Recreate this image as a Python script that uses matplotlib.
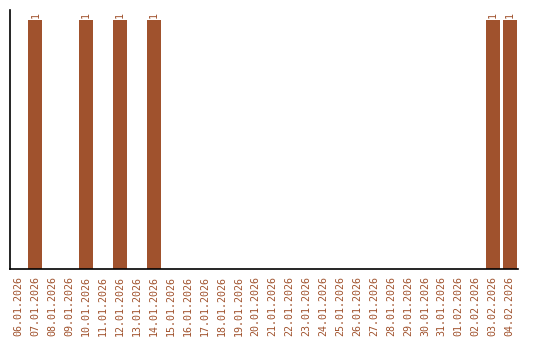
import matplotlib
matplotlib.use("Agg")
import matplotlib.pyplot as plt
import numpy as np

# dates shown on the x axis
dates = ["06.01.2026", "07.01.2026", "08.01.2026", "09.01.2026", "10.01.2026",
         "11.01.2026", "12.01.2026", "13.01.2026", "14.01.2026", "15.01.2026",
         "16.01.2026", "17.01.2026", "18.01.2026", "19.01.2026", "20.01.2026",
         "21.01.2026", "22.01.2026", "23.01.2026", "24.01.2026", "25.01.2026",
         "26.01.2026", "27.01.2026", "28.01.2026", "29.01.2026", "30.01.2026",
         "31.01.2026", "01.02.2026", "02.02.2026", "03.02.2026", "04.02.2026"]
counts = [0, 1, 0, 0, 1, 0, 1, 0, 1, 0,
          0, 0, 0, 0, 0, 0, 0, 0, 0, 0,
          0, 0, 0, 0, 0, 0, 0, 0, 1, 1]

col = "#A0522D"

fig = plt.figure(figsize=(5.4, 3.4), dpi=100)
ax = fig.add_axes([10 / 540, 71 / 340, 508 / 540, 259 / 340])

x = np.arange(len(dates))
bars = ax.bar(x, counts, width=0.83, color=col)
for xi, c in zip(x, counts):
    if c > 0:
        ax.text(xi, c + 0.006, str(c), rotation=90, ha="center", va="bottom",
                color=col, fontsize=7.2, family="DejaVu Sans Mono")

ax.set_xlim(-0.5, len(dates) - 0.5)
ax.set_ylim(0, 1.04)
ax.set_xticks(x)
ax.set_xticklabels(dates, rotation=90, color=col, fontsize=7.2, family="DejaVu Sans Mono")
ax.tick_params(axis="x", length=0, pad=5)
ax.set_yticks([])
ax.spines["top"].set_visible(False)
ax.spines["right"].set_visible(False)
ax.spines["left"].set_linewidth(1.2)
ax.spines["bottom"].set_linewidth(1.2)

plt.savefig("out.png", dpi=100)
